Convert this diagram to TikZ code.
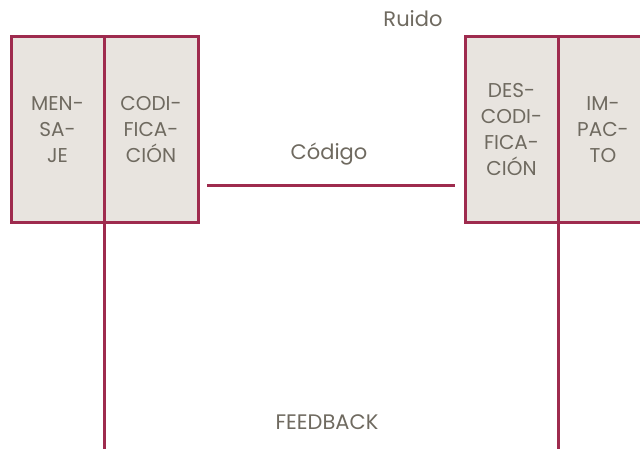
\documentclass[tikz,border=0pt]{standalone}
\usepackage{fontspec}
\setmainfont{Poppins}
\definecolor{bord}{HTML}{9E2B4E}
\definecolor{boxfill}{HTML}{E8E4DF}
\definecolor{txt}{HTML}{6F6A60}
\begin{document}
\begin{tikzpicture}[x=1pt,y=-1pt,
  stage/.style={draw=bord, line width=3pt, fill=boxfill, text=txt, align=center,
    font=\fontsize{20}{26}\selectfont, minimum height=186pt, inner sep=0pt, outer sep=0pt},
  lbl/.style={text=txt, font=\fontsize{21}{24}\selectfont, inner sep=0pt},
  link/.style={draw=bord, line width=3pt}]
\useasboundingbox[fill=white] (0,0) rectangle (640,449);
\node[stage, minimum width=93pt] (mensaje) at (57.5,130) {MEN-\\SA-\\JE};
\node[stage, minimum width=94pt] (codif) at (151,130) {CODI-\\FICA-\\CIÓN};
\node[stage, minimum width=93pt] (descod) at (511.5,130) {DES-\\CODI-\\FICA-\\CIÓN};
\node[stage, minimum width=90pt] (impacto) at (603,130) {IM-\\PAC-\\TO};
\coordinate (cstart) at (207,186);
\coordinate (cend) at (455,186);
\coordinate (fbottom) at (0,449);
\draw[link] (cstart) -- (cend);
\draw[link] (codif.south west) -- (codif.south west |- fbottom);
\draw[link] (descod.south east) -- (descod.south east |- fbottom);
\node[lbl] (codigo) at (329,154) {Código};
\node[lbl] (ruido) at (413,19) {Ruido};
\node[lbl] (feedback) at (327,422) {FEEDBACK};
\end{tikzpicture}
\end{document}
